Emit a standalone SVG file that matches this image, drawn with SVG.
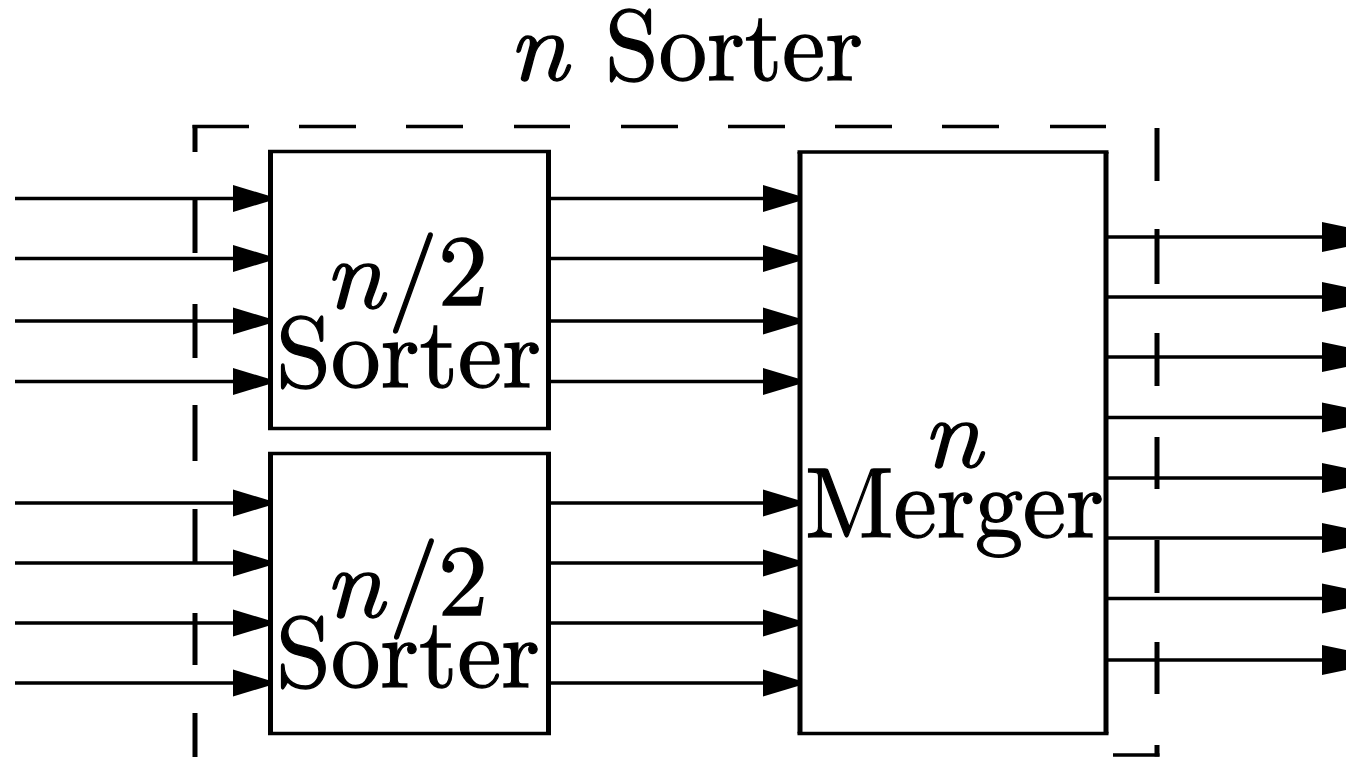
<svg xmlns="http://www.w3.org/2000/svg" width="1346" height="757" viewBox="0 0 1346 757">
<style>
.h{stroke:#000;stroke-width:3.4;fill:none}
.v{stroke:#000;stroke-width:5;fill:none}
.box{fill:#fff;stroke:none}
.w{stroke:#000;stroke-width:3.4;fill:none}
.lbl{stroke:#000;stroke-width:1.3}
</style>
<defs>
<marker id="ain" markerUnits="userSpaceOnUse" markerWidth="40" markerHeight="30" refX="37" refY="15" orient="auto" viewBox="0 0 40 30">
<path d="M0,1.5 L35,12 L37,15 L35,18 L0,28.5 Z" fill="#000"/>
</marker>
<marker id="aout" markerUnits="userSpaceOnUse" markerWidth="44" markerHeight="32" refX="42" refY="16" orient="auto" viewBox="0 0 44 32">
<path d="M0,1 L24,6 L42,16 L24,26 L0,31 Z" fill="#000"/>
</marker>
</defs>
<rect width="1346" height="757" fill="#fff"/>

<g id="connectors">
<g marker-end="url(#ain)">
<line class="w" x1="15" y1="198.5" x2="270" y2="198.5"/>
<line class="w" x1="15" y1="258.5" x2="270" y2="258.5"/>
<line class="w" x1="15" y1="321" x2="270" y2="321"/>
<line class="w" x1="15" y1="381.5" x2="270" y2="381.5"/>
<line class="w" x1="15" y1="503" x2="270" y2="503"/>
<line class="w" x1="15" y1="563" x2="270" y2="563"/>
<line class="w" x1="15" y1="623" x2="270" y2="623"/>
<line class="w" x1="15" y1="683" x2="270" y2="683"/>
<line class="w" x1="548" y1="198.5" x2="800" y2="198.5"/>
<line class="w" x1="548" y1="258.5" x2="800" y2="258.5"/>
<line class="w" x1="548" y1="321" x2="800" y2="321"/>
<line class="w" x1="548" y1="381.5" x2="800" y2="381.5"/>
<line class="w" x1="548" y1="503" x2="800" y2="503"/>
<line class="w" x1="548" y1="563" x2="800" y2="563"/>
<line class="w" x1="548" y1="623" x2="800" y2="623"/>
<line class="w" x1="548" y1="683" x2="800" y2="683"/>
</g>
<g marker-end="url(#aout)">
<line class="w" x1="1106" y1="237" x2="1364" y2="237"/>
<line class="w" x1="1106" y1="297" x2="1364" y2="297"/>
<line class="w" x1="1106" y1="357" x2="1364" y2="357"/>
<line class="w" x1="1106" y1="417.5" x2="1364" y2="417.5"/>
<line class="w" x1="1106" y1="478" x2="1364" y2="478"/>
<line class="w" x1="1106" y1="538" x2="1364" y2="538"/>
<line class="w" x1="1106" y1="598.5" x2="1364" y2="598.5"/>
<line class="w" x1="1106" y1="660" x2="1364" y2="660"/>
</g>
</g>

<g font-family="Latin Modern Roman, Liberation Serif, serif" font-size="100" fill="#000">
<g id="n-sorter">
<path class="h" d="M192.5,126.5H249 M299,126.5H356 M406,126.5H463 M514,126.5H570 M621,126.5H678 M728,126.5H785 M835,126.5H892 M942,126.5H999 M1050,126.5H1106 M1113,755H1159.5"/>
<path class="v" d="M195,125V152 M195,198V253 M195,304V358 M195,405V461 M195,509V562 M195,613V665 M195,713V757 M1157,128V181 M1157,229V284 M1157,333V386 M1157,437V489 M1157,540V593 M1157,642V694 M1157,745V756.5"/>
<text class="lbl" font-style="italic" x="508" y="80" textLength="60" lengthAdjust="spacingAndGlyphs">n</text>
<text class="lbl" x="605" y="80" textLength="258" lengthAdjust="spacingAndGlyphs">Sorter</text>
</g>

<g id="sorter-top">
<rect class="box" x="270.5" y="151.5" width="278" height="277"/>
<path class="h" d="M268,151.5H551 M268,428.5H551"/>
<path class="v" d="M270.5,151.5V428.5 M548.5,151.5V428.5"/>
<text class="lbl" font-style="italic" x="324" y="308" textLength="60" lengthAdjust="spacingAndGlyphs">n</text>
<text class="lbl" x="388" y="308">/</text>
<text class="lbl" x="438" y="305">2</text>
<text class="lbl" x="276" y="387" textLength="265" lengthAdjust="spacingAndGlyphs">Sorter</text>
</g>

<g id="sorter-bottom">
<rect class="box" x="270.5" y="453.5" width="278" height="280"/>
<path class="h" d="M268,453.5H551 M268,733.5H551"/>
<path class="v" d="M270.5,453.5V733.5 M548.5,453.5V733.5"/>
<text class="lbl" font-style="italic" x="324" y="617" textLength="60" lengthAdjust="spacingAndGlyphs">n</text>
<text class="lbl" x="389" y="614">/</text>
<text class="lbl" x="438" y="615">2</text>
<text class="lbl" x="276" y="687" textLength="264" lengthAdjust="spacingAndGlyphs">Sorter</text>
</g>

<g id="merger">
<rect class="box" x="800" y="152" width="306" height="581.5"/>
<path class="h" d="M797.5,152H1108.5 M797.5,733.5H1108.5"/>
<path class="v" d="M800,152V733.5 M1106,152V733.5"/>
<text class="lbl" font-style="italic" x="922" y="467" textLength="60" lengthAdjust="spacingAndGlyphs">n</text>
<text class="lbl" x="805" y="537" textLength="299" lengthAdjust="spacingAndGlyphs">Merger</text>
</g>
</g>
</svg>
